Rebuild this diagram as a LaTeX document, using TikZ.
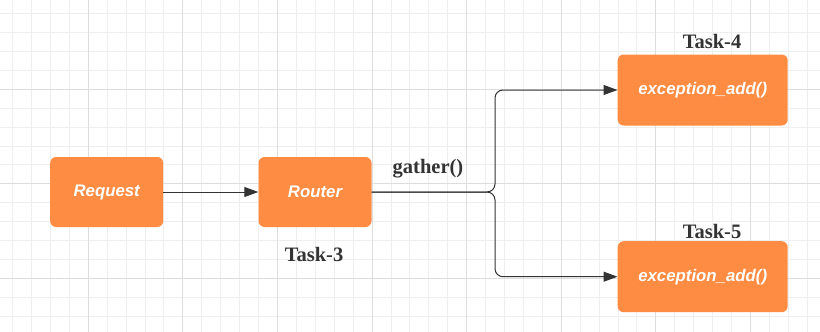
\documentclass[tikz,border=0pt]{standalone}
\usepackage{fontspec}
\setmainfont{Liberation Serif}
\setsansfont{Liberation Sans}
\usetikzlibrary{arrows.meta}
\definecolor{boxorange}{HTML}{FF8C42}
\definecolor{ink}{HTML}{333333}
\definecolor{gridminor}{HTML}{EEEEEE}
\definecolor{gridmajor}{HTML}{DDDDDD}
\tikzset{
  taskbox/.style={fill=boxorange, draw=none, rounded corners=6pt, minimum width=113pt, minimum height=70pt,
    text=white, font=\sffamily\bfseries\itshape\fontsize{16.8}{20}\selectfont, inner sep=0pt},
  widebox/.style={taskbox, minimum width=170pt, minimum height=71pt},
  tasklabel/.style={text=ink, font=\rmfamily\bfseries\fontsize{20.5}{24}\selectfont, inner sep=0pt},
  conn/.style={draw=ink, line width=1pt, -{Triangle[length=14pt,width=10pt]}},
}
\begin{document}
\begin{tikzpicture}[x=1pt,y=-1pt]
\useasboundingbox (0,0) rectangle (820,332);
\fill[white] (0,0) rectangle (820,332);
% grid
\foreach \i in {0,...,43} {
  \pgfmathsetmacro{\gx}{12.6+18.92*\i}
  \draw[gridminor, line width=1pt] (\gx,0) -- (\gx,332);
}
\foreach \i in {0,...,17} {
  \pgfmathsetmacro{\gy}{13.6+18.92*\i}
  \draw[gridminor, line width=1pt] (0,\gy) -- (820,\gy);
}
\foreach \i in {0,...,8} {
  \pgfmathsetmacro{\gx}{88.3+94.6*\i}
  \draw[gridmajor, line width=1pt] (\gx,0) -- (\gx,332);
}
\foreach \i in {0,...,2} {
  \pgfmathsetmacro{\gy}{89.3+94.6*\i}
  \draw[gridmajor, line width=1pt] (0,\gy) -- (820,\gy);
}
% nodes
\node[taskbox] (request) at (106.7,192) {\raisebox{-1.5pt}{Request}};
\node[taskbox] (router) at (315,192) {\raisebox{-1.5pt}{Router}};
\node[widebox] (t4) at (702.7,90) {\raisebox{-1.5pt}{exception\_add()}};
\node[widebox] (t5) at (702.7,276.7) {\raisebox{-1.5pt}{exception\_add()}};
\node[tasklabel] (l3) at (314,254) {Task-3};
\node[tasklabel] (l4) at (712,41.5) {Task-4};
\node[tasklabel] (l5) at (712,231.5) {Task-5};
\node[tasklabel] (lg) at (428,169) {gather()};
\coordinate (split) at (495,192);
% connectors
\draw[conn] (request) -- (router);
\draw[conn, rounded corners=8pt] (router.east) -- (split) |- (t4.west);
\draw[conn, rounded corners=8pt] (router.east) -- (split) |- (t5.west);
\end{tikzpicture}
\end{document}
